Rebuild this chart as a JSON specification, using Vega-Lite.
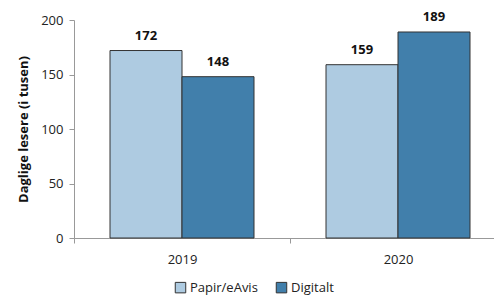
{
  "$schema": "https://vega.github.io/schema/vega-lite/v6.json",
  "width": 420,
  "height": 218,
  "autosize": {"type": "none"},
  "padding": {"left": 74, "top": 20, "right": 0, "bottom": 60},
  "background": "white",
  "config": {
    "font": "Open Sans",
    "view": {"stroke": null}
  },
  "data": {
    "values": [
      {"year": "2019", "type": "Papir/eAvis", "value": 172},
      {"year": "2019", "type": "Digitalt", "value": 148},
      {"year": "2020", "type": "Papir/eAvis", "value": 159},
      {"year": "2020", "type": "Digitalt", "value": 189}
    ]
  },
  "encoding": {
    "x": {
      "field": "year",
      "type": "nominal",
      "scale": {"range": [0, 432], "paddingInner": 0, "paddingOuter": 0},
      "axis": {
        "title": null,
        "labelAngle": 0,
        "tickBand": "extent",
        "domainColor": "#999999",
        "tickColor": "#999999",
        "tickSize": 5,
        "labelFontSize": 13,
        "labelColor": "#222222",
        "labelPadding": 10
      }
    },
    "xOffset": {
      "field": "type",
      "type": "nominal",
      "sort": ["Papir/eAvis", "Digitalt"],
      "scale": {"paddingInner": 0, "paddingOuter": 0.5}
    },
    "y": {
      "field": "value",
      "type": "quantitative",
      "scale": {"domain": [0, 200]},
      "axis": {
        "title": "Daglige lesere (i tusen)",
        "titleFontSize": 13,
        "titleFontWeight": "bold",
        "titleColor": "#111111",
        "titlePadding": 10,
        "values": [0, 50, 100, 150, 200],
        "grid": false,
        "domainColor": "#999999",
        "tickColor": "#999999",
        "tickSize": 5,
        "labelFontSize": 13,
        "labelColor": "#222222",
        "labelPadding": 6
      }
    }
  },
  "layer": [
    {
      "mark": {"type": "bar", "stroke": "#333333", "strokeWidth": 1},
      "encoding": {
        "color": {
          "field": "type",
          "type": "nominal",
          "sort": ["Papir/eAvis", "Digitalt"],
          "scale": {"domain": ["Papir/eAvis", "Digitalt"], "range": ["#aecbe1", "#417fab"]},
          "legend": {
            "title": null,
            "orient": "none",
            "direction": "horizontal",
            "legendX": 100,
            "legendY": 261,
            "symbolType": "square",
            "symbolSize": 110,
            "symbolStrokeColor": "#333333",
            "symbolStrokeWidth": 1,
            "labelFontSize": 13,
            "labelColor": "#222222",
            "columnPadding": 16,
            "labelOffset": 3
          }
        }
      }
    },
    {
      "mark": {"type": "text", "dy": -15, "fontWeight": "bold", "fontSize": 13, "color": "#111111"},
      "encoding": {"text": {"field": "value", "type": "quantitative"}}
    }
  ]
}
